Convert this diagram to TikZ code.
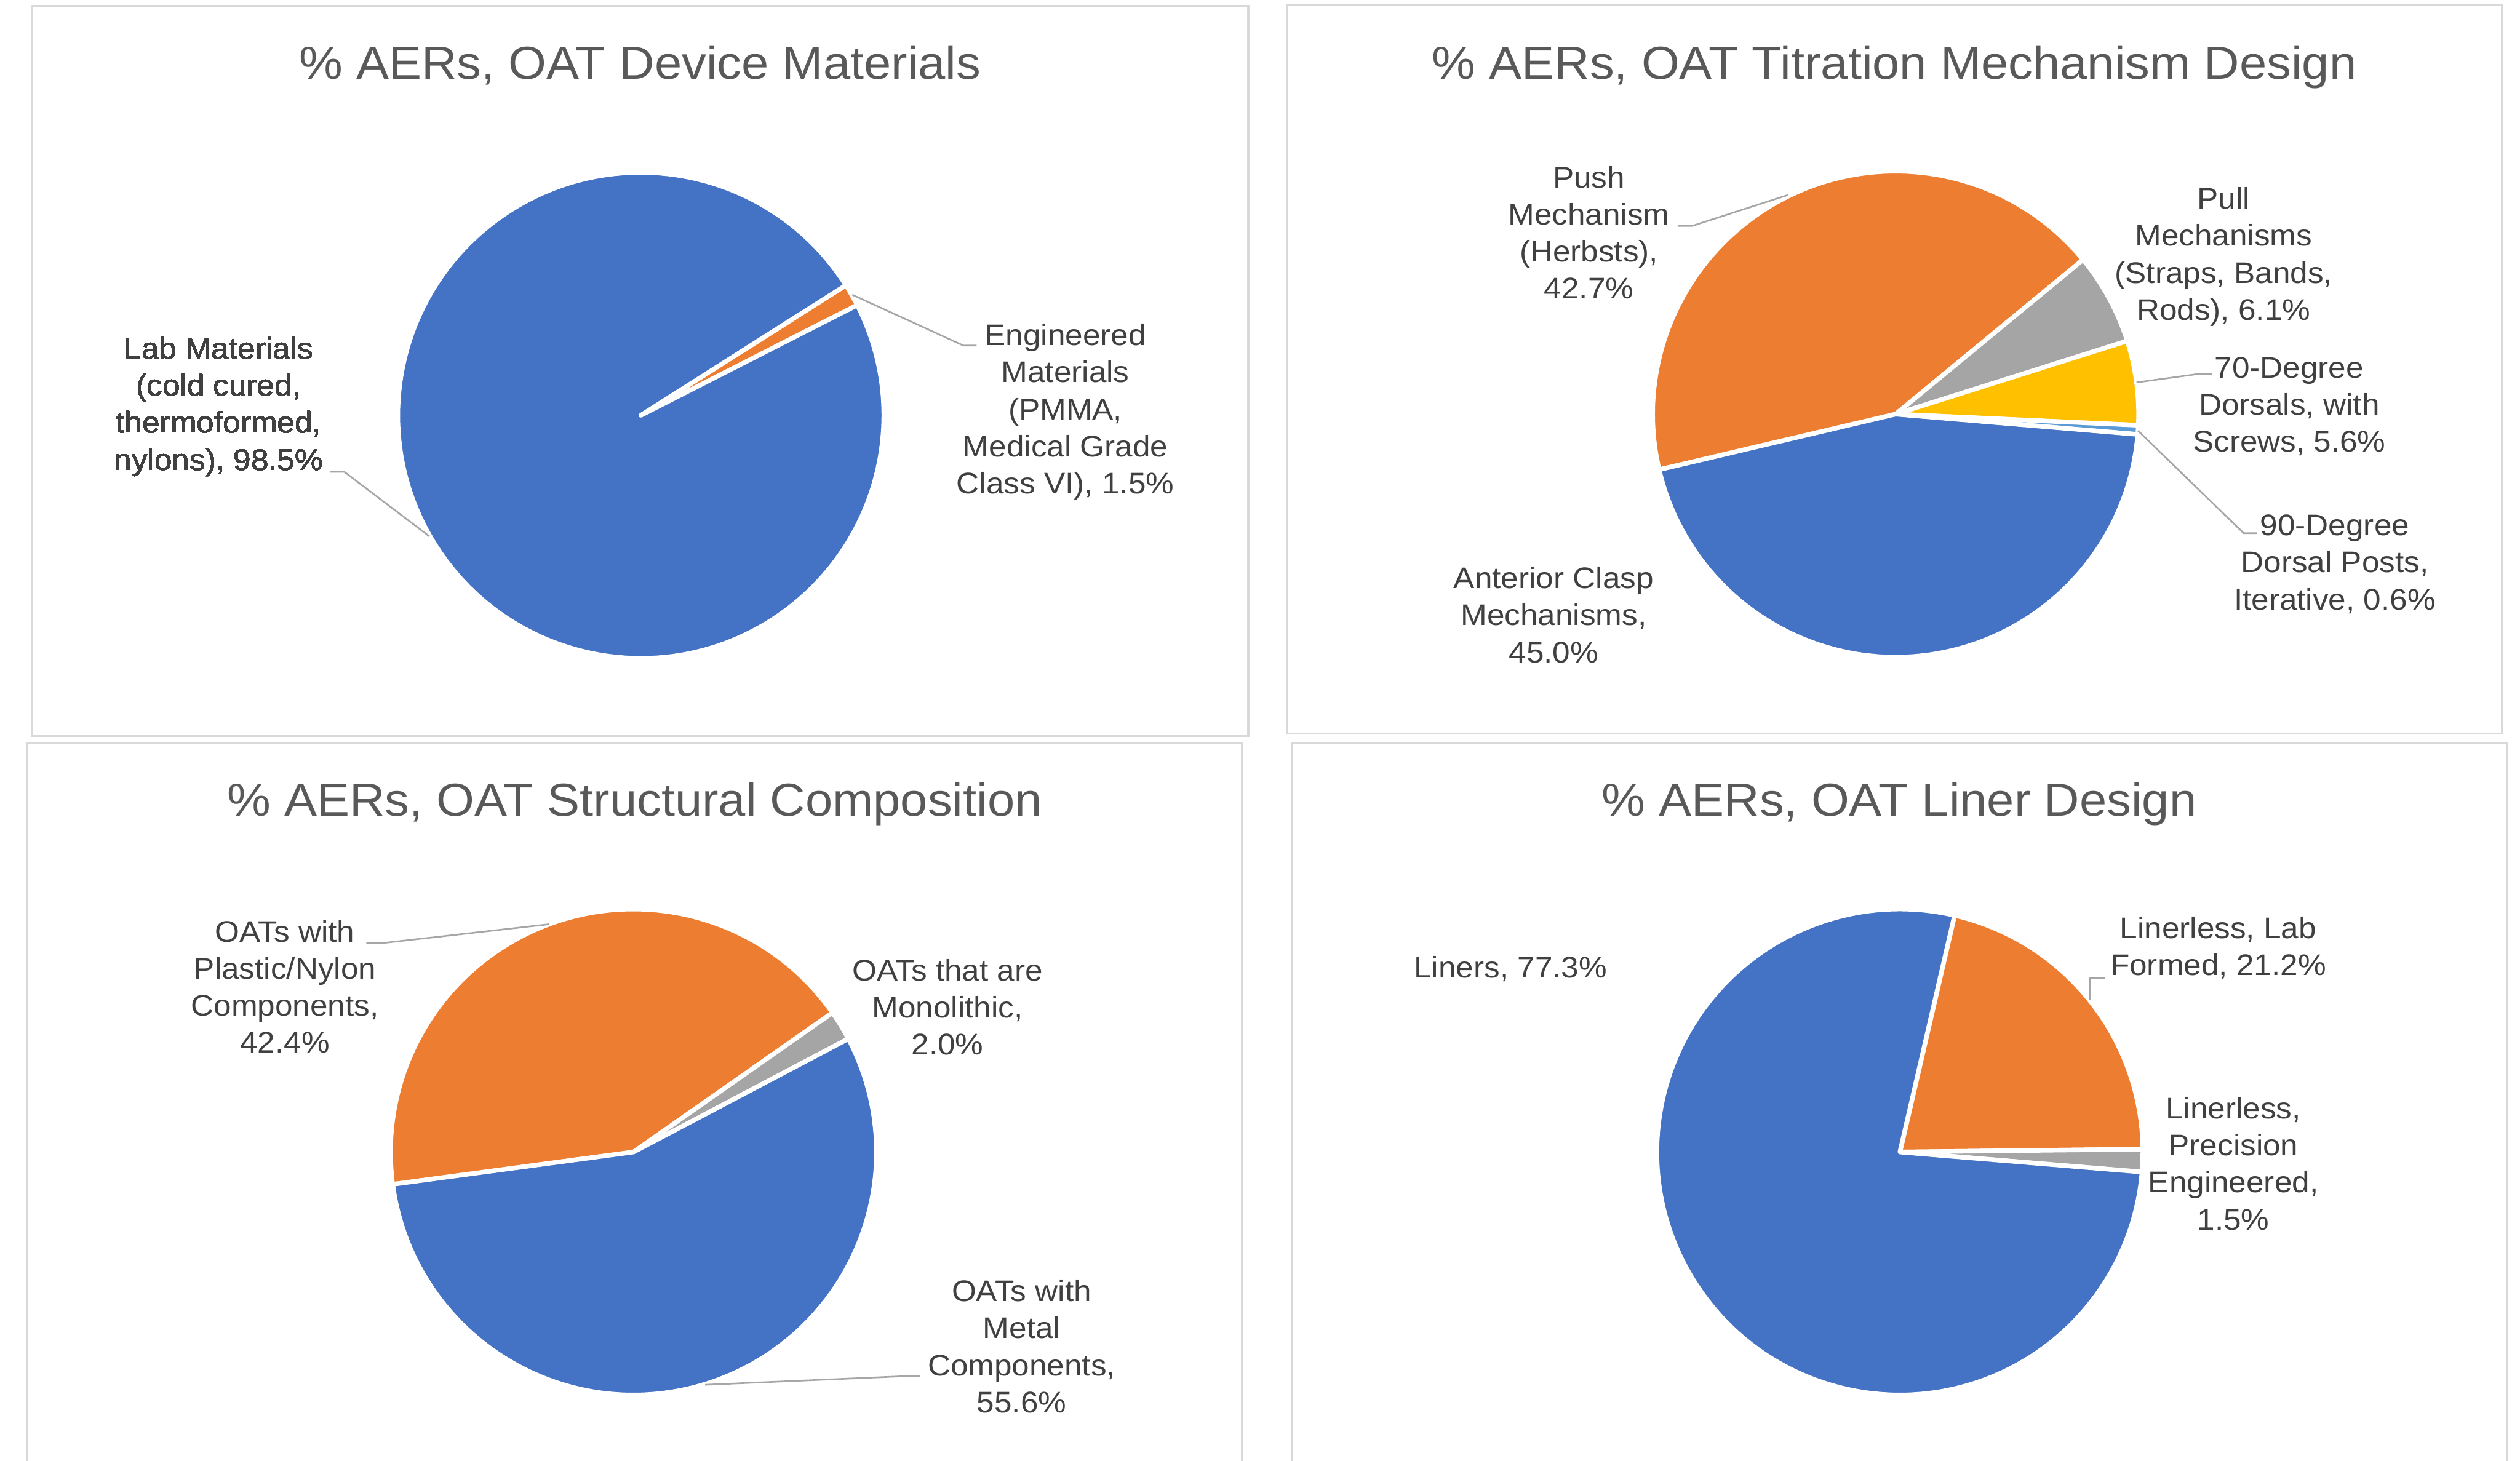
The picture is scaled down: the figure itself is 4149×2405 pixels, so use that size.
\documentclass[tikz,border=0pt]{standalone}
\usepackage{fontspec}
\setmainfont{Liberation Sans}[FakeStretch=1.06]
\usetikzlibrary{calc}

\definecolor{pieblue}{HTML}{4472C4}
\definecolor{pieorange}{HTML}{ED7D31}
\definecolor{piegray}{HTML}{A5A5A5}
\definecolor{piegold}{HTML}{FFC000}
\definecolor{pielight}{HTML}{5B9BD5}
\definecolor{titlegray}{HTML}{595959}
\definecolor{labelgray}{HTML}{404040}
\definecolor{framegray}{HTML}{D9D9D9}
\definecolor{leadergray}{HTML}{A6A6A6}

\newcommand{\pieR}{400pt}
% one wedge: centre, start angle, end angle, colour
\newcommand{\pieslice}[4]{\filldraw[slice,fill=#4] (#1) -- ([shift={(#2:\pieR)}]#1) arc[start angle=#2,end angle=#3,radius=\pieR] -- cycle;}
\newcommand{\lblstack}[1]{\begin{tabular}[t]{@{}c@{}}#1\end{tabular}}

\tikzstyle{panel}=[draw=framegray,line width=3.5pt]
\tikzstyle{charttitle}=[anchor=base,inner sep=0pt,text=titlegray,font=\fontsize{76}{90}\selectfont]
\tikzstyle{datalabel}=[anchor=base,inner sep=0pt,text=labelgray,font=\fontsize{49}{61}\selectfont]
\tikzstyle{slice}=[draw=white,line width=7.5pt,line join=round]
\tikzstyle{leader}=[draw=leadergray,line width=2.7pt]

\begin{document}
\begin{tikzpicture}[x=1pt,y=1pt]
	\useasboundingbox (0,0) rectangle (4149,2405);
	\clip (0,0) rectangle (4149,2405);
	\fill[white] (0,0) rectangle (4149,2405);
		% chart frames
		\draw[panel] (53,1193) rectangle (2055,2395);
		\draw[panel] (2119,1197) rectangle (4119,2397);
		\draw[panel] (44,-20) rectangle (2045,1181);
		\draw[panel] (2127,-20) rectangle (4127,1181);
		% pie centres
		\coordinate (tl) at (1055,1721);
		\coordinate (tr) at (3121,1723);
		\coordinate (bl) at (1043,508);
		\coordinate (br) at (3128,508);
		% titles
		\node[charttitle] (materials) at (1054,2275) {\% AERs, OAT Device Materials};
		\node[charttitle] (titration) at (3119,2275) {\% AERs, OAT Titration Mechanism Design};
		\node[charttitle] (structure) at (1045,1061) {\% AERs, OAT Structural Composition};
		\node[charttitle] (liner) at (3127,1061) {\% AERs, OAT Liner Design};
    		% Then the wedges of each pie
		\foreach \from/\to/\col in {27/32.4/pieorange, 32.4/387/pieblue}
		 \pieslice{tl}{\from}{\to}{\col}
		\foreach \from/\to/\col in {39.5/193.22/pieorange, 17.54/39.5/piegray, -2.62/17.54/piegold, -4.78/-2.62/pielight, 193.22/355.22/pieblue}
		 \pieslice{tr}{\from}{\to}{\col}
		\foreach \from/\to/\col in {35/187.64/pieorange, 27.8/35/piegray, 187.64/387.8/pieblue}
		 \pieslice{bl}{\from}{\to}{\col}
		\foreach \from/\to/\col in {0.68/77/pieorange, -4.72/0.68/piegray, 77/355.28/pieblue}
		 \pieslice{br}{\from}{\to}{\col}
		% data labels
		\node[datalabel] (lab) at (360,1814) {\lblstack{Lab Materials\\(cold cured,\\thermoformed,\\nylons), 98.5\%}};
		\node[datalabel] (eng) at (1754,1836) {\lblstack{Engineered\\Materials\\(PMMA,\\Medical Grade\\Class VI), 1.5\%}};
		\node[datalabel] (push) at (2616,2096) {\lblstack{Push\\Mechanism\\(Herbsts),\\42.7\%}};
		\node[datalabel] (pull) at (3661,2061) {\lblstack{Pull\\Mechanisms\\(Straps, Bands,\\Rods), 6.1\%}};
		\node[datalabel] (deg70) at (3769,1783) {\lblstack{70-Degree\\Dorsals, with\\Screws, 5.6\%}};
		\node[datalabel] (deg90) at (3844,1523) {\lblstack{90-Degree\\Dorsal Posts,\\Iterative, 0.6\%}};
		\node[datalabel] (clasp) at (2558,1436) {\lblstack{Anterior Clasp\\Mechanisms,\\45.0\%}};
		\node[datalabel] (plastic) at (469,854) {\lblstack{OATs with\\Plastic/Nylon\\Components,\\42.4\%}};
		\node[datalabel] (mono) at (1560,790) {\lblstack{OATs that are\\Monolithic,\\2.0\%}};
		\node[datalabel] (metal) at (1682,262) {\lblstack{OATs with\\Metal\\Components,\\55.6\%}};
		\node[datalabel] (liners) at (2487,795) {Liners, 77.3\%};
		\node[datalabel] (labform) at (3652,860) {\lblstack{Linerless, Lab\\Formed, 21.2\%}};
		\node[datalabel] (precise) at (3677,563) {\lblstack{Linerless,\\Precision\\Engineered,\\1.5\%}};
		% leader line ends
		\coordinate (eng-p) at ($(tl)+(29.7:401)$);
		\coordinate (eng-k) at (1586,1836);
		\coordinate (eng-e) at (1608,1836);
		\coordinate (lab-p) at ($(tl)+(209.8:401)$);
		\coordinate (lab-k) at (567,1628);
		\coordinate (lab-e) at (543,1628);
		\coordinate (push-p) at ($(tr)+(116.1:402)$);
		\coordinate (push-k) at (2786,2033);
		\coordinate (push-e) at (2762,2033);
		\coordinate (deg70-p) at ($(tr)+(7.5:400)$);
		\coordinate (deg70-k) at (3618,1789);
		\coordinate (deg70-e) at (3642,1789);
		\coordinate (deg90-p) at ($(tr)+(-3.9:400)$);
		\coordinate (deg90-k) at (3694,1527);
		\coordinate (deg90-e) at (3716,1527);
		\coordinate (plastic-p) at ($(bl)+(110.3:400)$);
		\coordinate (plastic-k) at (629,852);
		\coordinate (plastic-e) at (603,852);
		\coordinate (metal-p) at ($(bl)+(-72.9:401)$);
		\coordinate (metal-k) at (1492,139);
		\coordinate (metal-e) at (1515,139);
		\coordinate (labform-p) at ($(br)+(38.6:401)$);
		\coordinate (labform-k) at (3441,795);
		\coordinate (labform-e) at (3465,795);
   		 % Connect labels with their wedges
   		 \foreach \lbl in {eng, lab, push, deg70, deg90, plastic, metal, labform}
		 \path[leader] (\lbl-p) -- (\lbl-k) -- (\lbl-e);
\end{tikzpicture}
\end{document}
